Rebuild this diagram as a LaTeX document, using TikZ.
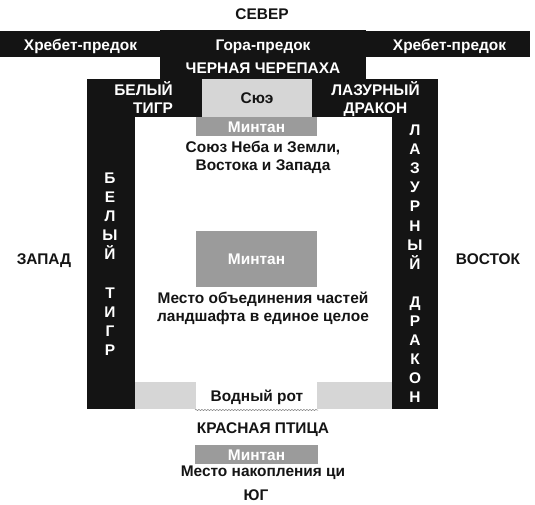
\documentclass[tikz,border=0pt]{standalone}
\usepackage{fontspec}
\setmainfont{Liberation Sans}
\usetikzlibrary{decorations.pathmorphing}
\definecolor{blk}{HTML}{141414}
\definecolor{lgray}{HTML}{D6D6D6}
\definecolor{mgray}{HTML}{9B9B9B}
\tikzset{
  lbl/.style={font=\fontsize{15.5}{18}\selectfont\bfseries, inner sep=0pt, text height=11.1bp, text depth=0pt},
  wl/.style={lbl, text=white},
  bl/.style={lbl, text=blk},
  blackpart/.style={fill=blk, draw=none},
  lightbox/.style={fill=lgray, draw=none},
  mintan/.style={wl, fill=mgray, minimum width=121bp, minimum height=19bp},
  wave/.style={draw=gray, line width=0.5bp, decorate, decoration={snake, amplitude=0.6bp, segment length=3bp}}
}
\begin{document}
\begin{tikzpicture}[x=1bp,y=-1bp]
\useasboundingbox[fill=white] (0,0) rectangle (535,505);
% black frame
\fill[blackpart] (0,31) rectangle (530,57);
\fill[blackpart] (160,30) rectangle (366,79);
\fill[blackpart] (87,79) rectangle (438,117);
\fill[blackpart] (87,117) rectangle (135,409);
\fill[blackpart] (392,117) rectangle (438,409);
% light boxes at the bottom
\fill[lightbox] (135,382) rectangle (196,409);
\fill[lightbox] (317,382) rectangle (392,409);
\coordinate (wa) at (195,410);
\coordinate (wb) at (318,410);
\draw[wave] (wa) -- (wb);
% boxes
\node[wl, text=blk, fill=lgray, minimum width=110bp, minimum height=38bp] (siue) at (257,98) {Сюэ};
\node[mintan] (m1) at (256.5,126.5) {Минтан};
\node[mintan, minimum height=56bp] (m2) at (256.5,259) {Минтан};
\node[mintan, minimum width=123bp] (m3) at (256.5,454.5) {Минтан};
% texts
\node[bl] (north) at (262,14) {СЕВЕР};
\node[wl] (rl) at (80.5,44.5) {Хребет-предок};
\node[wl] (gora) at (263,44.5) {Гора-предок};
\node[wl] (rr) at (449.5,44.5) {Хребет-предок};
\node[wl] (turtle) at (263,68) {ЧЕРНАЯ ЧЕРЕПАХА};
\node[wl, anchor=east] (tg1) at (173,90) {БЕЛЫЙ};
\node[wl, anchor=east] (tg2) at (173,108) {ТИГР};
\node[wl] (dr1) at (375.5,90) {ЛАЗУРНЫЙ};
\node[wl] (dr2) at (375.5,108) {ДРАКОН};
\node[bl] (s1) at (263,146.7) {Союз Неба и Земли,};
\node[bl] (s2) at (263,164.7) {Востока и Запада};
\node[bl] (c1) at (263,298) {Место объединения частей};
\node[bl] (c2) at (263,316) {ландшафта в единое целое};
\node[bl] (west) at (44,259) {ЗАПАД};
\node[bl] (east) at (488,259) {ВОСТОК};
\node[bl] (mouth) at (257,396) {Водный рот};
\node[bl] (bird) at (263,428) {КРАСНАЯ ПТИЦА};
\node[bl] (qi) at (263,471.3) {Место накопления ци};
\node[bl] (south) at (256,495) {ЮГ};
% vertical letters
\foreach \ch [count=\i] in {Б,Е,Л,Ы,Й}
  \node[wl] (wt\i) at (110,{178+19.1*(\i-1)}) {\ch};
\foreach \ch [count=\i from 7] in {Т,И,Г,Р}
  \node[wl] (wt\i) at (110,{178+19.1*(\i-1)}) {\ch};
\foreach \ch [count=\i] in {Л,А,З,У,Р,Н,Ы,Й}
  \node[wl] (ld\i) at (415,{130+19.1*(\i-1)}) {\ch};
\foreach \ch [count=\i from 10] in {Д,Р,А,К,О,Н}
  \node[wl] (ld\i) at (415,{130+19.1*(\i-1)}) {\ch};
\end{tikzpicture}
\end{document}
